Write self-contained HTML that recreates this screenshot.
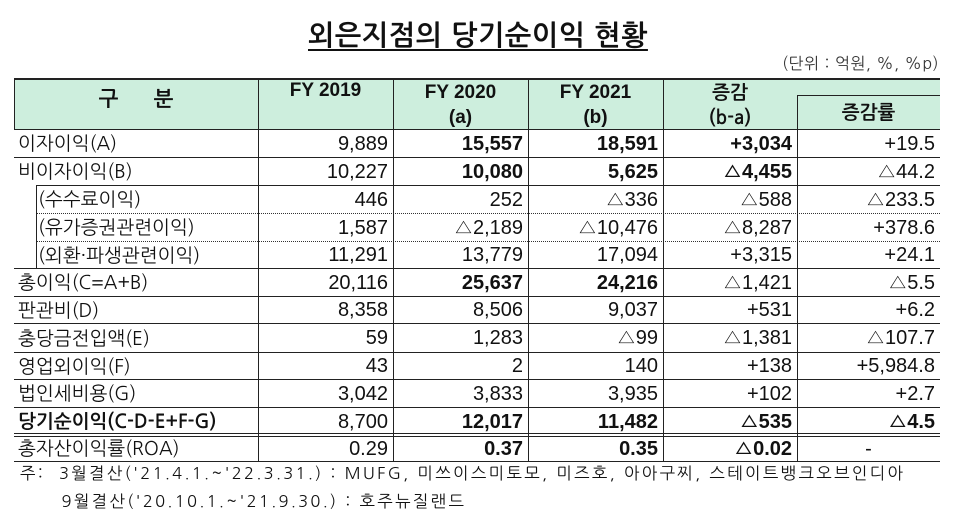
<!DOCTYPE html>
<html><head><meta charset="utf-8"><style>
*{margin:0;padding:0;box-sizing:border-box}
body{width:955px;height:522px;background:#fff;position:relative;overflow:hidden;font-family:"Liberation Sans","NanumGothic","Noto Sans CJK KR",sans-serif;color:#111}
.a{position:absolute;white-space:nowrap}
.h{position:absolute;background:#222;height:1px}
.v{position:absolute;background:#222;width:1px}
.d{position:absolute;height:0;border-top:1px dotted #333}
.t{font-size:19px;line-height:27px;height:27px}
.n{font-size:20px}
.r{text-align:right}
.b{font-weight:bold}
.k{font-family:"NanumGothic","Noto Sans CJK KR",sans-serif}
</style></head><body>
<div class="a b k" style="left:308px;top:22px;width:342px;font-size:28px;letter-spacing:0.6px;text-decoration:underline;text-underline-offset:4px">외은지점의 당기순이익 현황</div>
<div class="a k" style="right:16px;top:54px;font-size:16px;letter-spacing:0.5px;color:#333">(단위 : 억원, %, %p)</div>
<div class="a" style="left:14px;top:78px;width:926px;height:51px;background:#cdeedd"></div>
<div class="h" style="left:14px;top:78px;width:926px;height:2px"></div>
<div class="v" style="left:14px;top:78px;height:51px"></div>
<div class="h" style="left:797px;top:95px;width:143px"></div>
<div class="a b k" style="left:14px;top:89px;width:244px;text-align:center;font-size:21px">구&nbsp;&nbsp;&nbsp;&nbsp;&nbsp;&nbsp;분</div>
<div class="a b" style="left:258px;top:80px;width:135px;text-align:center;font-size:19px">FY 2019</div>
<div class="a b" style="left:393px;top:80px;width:135px;text-align:center;font-size:19px;line-height:25px">FY 2020<br>(a)</div>
<div class="a b" style="left:528px;top:80px;width:135px;text-align:center;font-size:19px;line-height:25px">FY 2021<br>(b)</div>
<div class="a b k" style="left:663px;top:80px;width:134px;text-align:center;font-size:19px;line-height:25px">증감<br>(b-a)</div>
<div class="a b k" style="left:797px;top:103px;width:143px;text-align:center;font-size:19px">증감률</div>
<div id="g"></div>
<div class="a k" style="left:20px;top:460px;font-size:16.5px;line-height:28px;letter-spacing:2.3px">주:&nbsp;&nbsp;3월결산('21.4.1.~'22.3.31.) : MUFG, 미쓰이스미토모, 미즈호, 아아구찌, 스테이트뱅크오브인디아<br>&nbsp;&nbsp;&nbsp;&nbsp;&nbsp;&nbsp;9월결산('20.10.1.~'21.9.30.) : 호주뉴질랜드</div>
<script>
var rows=[
["이자이익(A)","9,889","15,557","18,591","+3,034","+19.5",[0,1,1,1,0],0],
["비이자이익(B)","10,227","10,080","5,625","△4,455","△44.2",[0,1,1,1,0],0],
["(수수료이익)","446","252","△336","△588","△233.5",[0,0,0,0,0],1],
["(유가증권관련이익)","1,587","△2,189","△10,476","△8,287","+378.6",[0,0,0,0,0],1],
["(외환·파생관련이익)","11,291","13,779","17,094","+3,315","+24.1",[0,0,0,0,0],1],
["총이익(C=A+B)","20,116","25,637","24,216","△1,421","△5.5",[0,1,1,0,0],0],
["판관비(D)","8,358","8,506","9,037","+531","+6.2",[0,0,0,0,0],0],
["충당금전입액(E)","59","1,283","△99","△1,381","△107.7",[0,0,0,0,0],0],
["영업외이익(F)","43","2","140","+138","+5,984.8",[0,0,0,0,0],0],
["법인세비용(G)","3,042","3,833","3,935","+102","+2.7",[0,0,0,0,0],0],
["당기순이익(C-D-E+F-G)","8,700","12,017","11,482","△535","△4.5",[0,1,1,1,1],2],
["총자산이익률(ROA)","0.29","0.37","0.35","△0.02","-",[0,1,1,1,0],0]];
var ys=[129,157,185,213,241,268,296,323,352,379,407,435,461];
var cx=[258,393,528,663,797,940];
var h="";
for(var i=0;i<rows.length;i++){var r=rows[i],y=ys[i],hh=ys[i+1]-y;
 var lx=r[7]==1?38:18;
 h+='<div class="a t k'+(r[7]==2?' b':'')+'" style="left:'+lx+'px;top:'+(y+1)+'px;line-height:'+hh+'px">'+r[0]+'</div>';
 for(var j=0;j<5;j++){
  var txt=r[j+1]; var dash=(j==4&&txt=="-"); var st=dash?'text-align:center;':'';
  h+='<div class="a t n r'+(r[6][j]?' b':'')+'" style="'+st+'left:'+cx[j]+'px;width:'+(cx[j+1]-cx[j]-(dash?0:5))+'px;top:'+(y+1)+'px;line-height:'+hh+'px">'+txt+'</div>';
 }
}
for(var i=0;i<ys.length;i++){var y=ys[i];
 if(i==3||i==4){h+='<div class="d" style="left:36px;top:'+y+'px;width:904px"></div>';}
 else if(i==2){h+='<div class="h" style="left:36px;top:'+y+'px;width:904px"></div>';}
 else if(i==11){h+='<div class="h" style="left:14px;top:433px;width:926px"></div><div class="h" style="left:14px;top:436px;width:926px"></div>';}
 else h+='<div class="h" style="left:14px;top:'+y+'px;width:926px"></div>';
}
h+='<div class="v" style="left:36px;top:185px;height:83px"></div>';
for(var j=0;j<5;j++){var t=j==4?95:78;h+='<div class="v" style="left:'+cx[j]+'px;top:'+t+'px;height:'+(461-t)+'px"></div>';}
document.getElementById("g").innerHTML=h;
</script>
</body></html>
